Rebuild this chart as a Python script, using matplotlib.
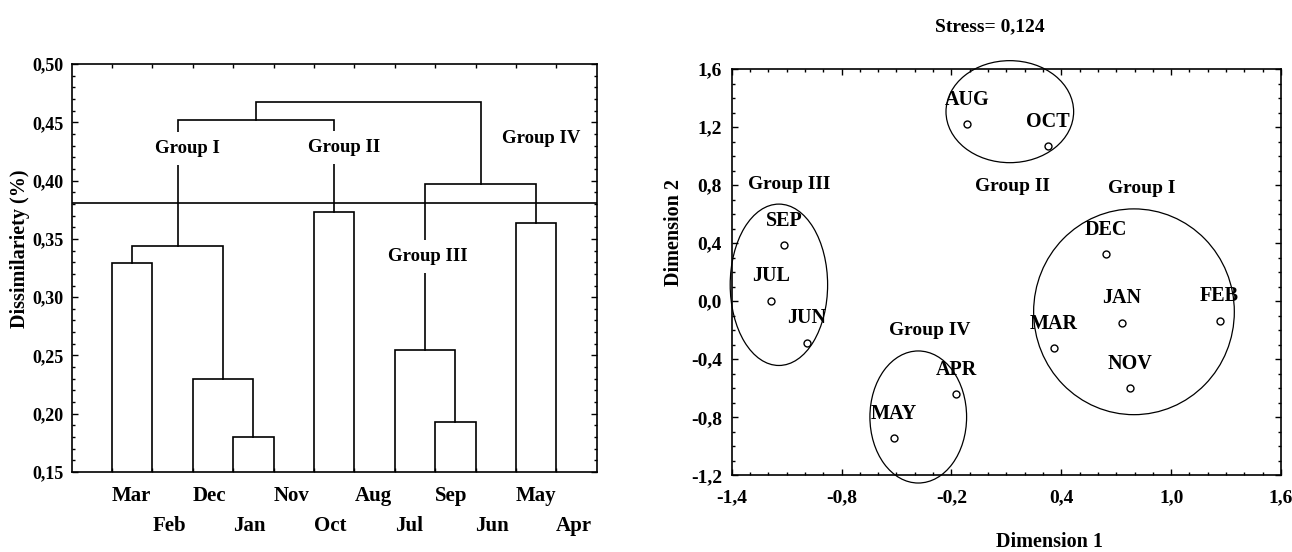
import matplotlib
matplotlib.use("Agg")
import matplotlib.pyplot as plt
from matplotlib.patches import Ellipse
from matplotlib.ticker import MultipleLocator, FuncFormatter, FixedLocator

plt.rcParams['font.family'] = ['Liberation Serif', 'DejaVu Serif']
plt.rcParams['font.weight'] = 'bold'
plt.rcParams['axes.unicode_minus'] = False

# ---------------- data: dendrogram ----------------
leaves = ['Mar', 'Feb', 'Dec', 'Jan', 'Nov', 'Oct', 'Aug', 'Jul', 'Sep', 'Jun', 'May', 'Apr']
# merges: (cluster a, cluster b, height); new clusters numbered from len(leaves)
merge_a = [3, 8, 2, 7, 0, 16, 10, 5, 15, 17, 21]
merge_b = [4, 9, 12, 13, 1, 14, 11, 6, 18, 19, 20]
merge_h = [0.180, 0.193, 0.230, 0.255, 0.329, 0.344, 0.364, 0.373, 0.397, 0.452, 0.467]
cut_level = 0.381
dend_groups = ['Group I', 'Group II', 'Group III', 'Group IV']
dend_yticks = [0.15, 0.20, 0.25, 0.30, 0.35, 0.40, 0.45, 0.50]

# ---------------- data: MDS ----------------
mds_labels = ['AUG', 'OCT', 'SEP', 'JUL', 'JUN', 'DEC', 'JAN', 'FEB', 'MAR', 'NOV', 'APR', 'MAY']
dim1 = [-0.115, 0.326, -1.113, -1.185, -0.989, 0.644, 0.730, 1.265, 0.359, 0.774, -0.173, -0.515]
dim2 = [1.221, 1.069, 0.385, 0.003, -0.286, 0.323, -0.148, -0.135, -0.323, -0.600, -0.642, -0.943]
stress = 0.124
ell_groups = ['Group I', 'Group II', 'Group III', 'Group IV']
ell_cx = [0.797, 0.119, -1.142, -0.381]
ell_cy = [-0.073, 1.306, 0.113, -0.798]
ell_w = [1.096, 0.697, 0.532, 0.528]
ell_h = [1.418, 0.703, 1.112, 0.910]
mds_xticks = [-1.4, -0.8, -0.2, 0.4, 1.0, 1.6]
mds_yticks = [-1.2, -0.8, -0.4, 0.0, 0.4, 0.8, 1.2, 1.6]

fig = plt.figure(figsize=(12.92, 5.52), dpi=100)

# ================= left: dendrogram =================
ax1 = fig.add_axes([0.0555, 0.1449, 0.4063, 0.7391])
ymin, ymax = dend_yticks[0], dend_yticks[-1]
lw = 1.2
n = len(leaves)
xpos = {i: i + 1 for i in range(n)}
ypos = {i: ymin for i in range(n)}
for k, (a, b, h) in enumerate(zip(merge_a, merge_b, merge_h)):
    xa, xb = xpos[a], xpos[b]
    ax1.plot([xa, xa, xb, xb], [ypos[a], h, h, ypos[b]], color='black', lw=lw,
             solid_joinstyle='miter', zorder=2)
    xpos[n + k] = (xa + xb) / 2
    ypos[n + k] = h
ax1.axhline(cut_level, color='black', lw=lw, zorder=2)

bbox = dict(boxstyle='square,pad=0.42', fc='white', ec='none')
tkw = dict(fontsize=13.5, ha='center', va='center', zorder=5)
ax1.text(2.87, 0.4276, dend_groups[0], bbox=bbox, **tkw)
ax1.text(6.74, 0.4285, dend_groups[1], bbox=bbox, **tkw)
ax1.text(8.82, 0.3347, dend_groups[2], bbox=bbox, **tkw)
ax1.text(11.63, 0.436, dend_groups[3], **tkw)

ax1.set_xlim(0, n + 1)
ax1.set_ylim(ymin, ymax)
ax1.set_xticks(list(range(1, n + 1, 2)))
ax1.set_xticklabels(leaves[0::2], ha='left', fontsize=15)
ax1.set_xticks(list(range(2, n + 1, 2)), minor=True)
ax1.set_xticklabels(leaves[1::2], minor=True, ha='left', fontsize=15)
ax1.tick_params(axis='x', which='both', direction='in', top=True, bottom=True, length=3, width=1)
ax1.tick_params(axis='x', which='major', pad=10)
ax1.tick_params(axis='x', which='minor', pad=32)
ax1.yaxis.set_major_locator(FixedLocator(dend_yticks))
ax1.yaxis.set_minor_locator(MultipleLocator(0.01))
ax1.yaxis.set_major_formatter(FuncFormatter(lambda v, p: f"{v:.2f}".replace('.', ',')))
ax1.tick_params(axis='y', which='both', direction='in', left=True, right=True, labelsize=13, width=1)
ax1.tick_params(axis='y', which='major', length=4, pad=6)
ax1.tick_params(axis='y', which='minor', length=2.5)
for s in ax1.spines.values():
    s.set_linewidth(1.2)
fig.text(20 / 1292, 1 - 249 / 552, 'Dissimilariety (%)', rotation=90, fontsize=14.5,
         ha='center', va='center')

# ================= right: MDS =================
ax2 = fig.add_axes([0.5663, 0.1389, 0.4252, 0.7361])
ax2.plot(dim1, dim2, 'o', mfc='none', mec='black', ms=5, mew=1, zorder=3)
for lab, x, y in zip(mds_labels, dim1, dim2):
    ax2.annotate(lab, (x, y), xytext=(0, 17.5), textcoords='offset points',
                 ha='center', va='center', fontsize=14.5)
for cx, cy, w, h in zip(ell_cx, ell_cy, ell_w, ell_h):
    ax2.add_patch(Ellipse((cx, cy), w, h, fill=False, ec='black', lw=0.9, zorder=2,
                          clip_on=False))
gkw = dict(fontsize=14, ha='center', va='center')
ax2.text(0.839, 0.778, ell_groups[0], **gkw)
ax2.text(0.136, 0.789, ell_groups[1], **gkw)
ax2.text(-1.085, 0.807, ell_groups[2], **gkw)
ax2.text(-0.319, -0.201, ell_groups[3], **gkw)

ax2.set_xlim(mds_xticks[0], mds_xticks[-1])
ax2.set_ylim(mds_yticks[0], mds_yticks[-1])
ax2.xaxis.set_major_locator(FixedLocator(mds_xticks))
ax2.xaxis.set_minor_locator(MultipleLocator(0.1))
ax2.yaxis.set_major_locator(FixedLocator(mds_yticks))
ax2.yaxis.set_minor_locator(MultipleLocator(0.1))
fmt = FuncFormatter(lambda v, p: f"{v:.1f}".replace('.', ',').replace('-0,0', '0,0'))
ax2.xaxis.set_major_formatter(fmt)
ax2.yaxis.set_major_formatter(fmt)
ax2.tick_params(which='both', direction='in', top=True, bottom=True, left=True, right=True,
                labelsize=14, width=1)
ax2.tick_params(which='major', length=4)
ax2.tick_params(which='minor', length=2.5)
ax2.tick_params(axis='x', which='major', pad=10)
ax2.tick_params(axis='y', which='major', pad=7)
for s in ax2.spines.values():
    s.set_linewidth(1.2)
fig.text(990 / 1292, 1 - 27 / 552, f"Stress= {stress:.3f}".replace('.', ','), fontsize=14,
         ha='center', va='center')
fig.text(1049 / 1292, 1 - 542 / 552, 'Dimension 1', fontsize=14.5, ha='center', va='center')
fig.text(674 / 1292, 1 - 232 / 552, 'Dimension 2', fontsize=14.5, rotation=90,
         ha='center', va='center')

fig.savefig('out.png', dpi=100)
